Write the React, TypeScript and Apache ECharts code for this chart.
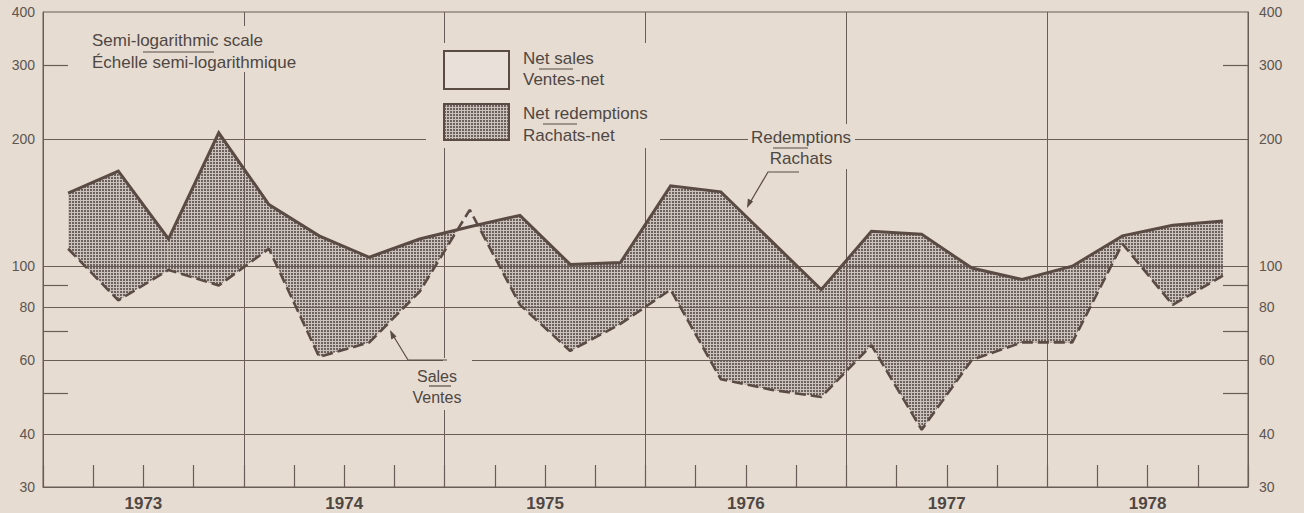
import React, { useEffect, useRef } from 'react';
import * as echarts from 'echarts';

// ---- data (quarterly, 1973 Q1 .. 1978 Q4), millions of dollars ----
const years = ['1973', '1974', '1975', '1976', '1977', '1978'];
const redemptions = [149, 168, 116, 207, 140, 118, 105, 116, 124, 132, 101, 102, 155, 150, 115, 88, 121, 119, 99, 93, 100, 118, 125, 128];
const sales = [110, 83, 98, 90, 110, 61, 66, 87, 136, 81, 63, 73, 88, 54, 51, 49, 65, 41, 60, 66, 66, 113, 81, 95];
const yLabelValues = [30, 40, 60, 80, 100, 200, 300, 400];
const yGridValues = [40, 60, 80, 100, 200];
const yShortTickValues = [50, 70, 90, 300];

const PAPER = '#e6dcd2';
const INK = '#5b4b45';
const GRID = '#6a5c56';
const TEXT = '#4f4742';
const FONT = '"Liberation Sans", Arial, Helvetica, sans-serif';

export default function App() {
  const ref = useRef<HTMLDivElement>(null);

  useEffect(() => {
    document.body.style.margin = '0';
    document.body.style.background = PAPER;
    const chart = echarts.init(ref.current!, null, { renderer: 'svg' });

    const canvas = document.createElement('canvas');
    canvas.width = 3;
    canvas.height = 3;
    const g = canvas.getContext('2d')!;
    g.fillStyle = '#cbc2bb';
    g.fillRect(0, 0, 3, 3);
    g.fillStyle = '#6c615d';
    g.fillRect(0, 0, 2, 2);
    const stipple: any = { image: canvas, repeat: 'repeat' };
    const lightFill = '#e9e1d9';

    const quarterPts = (arr: number[]) => arr.map((v, i) => [i + 0.5, v]);

    const renderBand = (params: any, api: any) => {
      const i = params.dataIndex;
      if (i >= redemptions.length - 1) return null;
      const r1 = api.coord([i + 0.5, redemptions[i]]);
      const r2 = api.coord([i + 1.5, redemptions[i + 1]]);
      const s1 = api.coord([i + 0.5, sales[i]]);
      const s2 = api.coord([i + 1.5, sales[i + 1]]);
      const d1 = s1[1] - r1[1];
      const d2 = s2[1] - r2[1];
      const dark = { fill: stipple, stroke: null };
      const light = { fill: lightFill, stroke: null };
      if (d1 * d2 >= 0) {
        return {
          type: 'polygon',
          shape: { points: [r1, r2, s2, s1] },
          style: d1 + d2 >= 0 ? dark : light,
        };
      }
      const t = d1 / (d1 - d2);
      const X = [r1[0] + t * (r2[0] - r1[0]), r1[1] + t * (r2[1] - r1[1])];
      return {
        type: 'group',
        children: [
          { type: 'polygon', shape: { points: [r1, X, s1] }, style: d1 > 0 ? dark : light },
          { type: 'polygon', shape: { points: [X, r2, s2] }, style: d2 > 0 ? dark : light },
        ],
      };
    };

    const text = (t: string, x: number, y: number, size: number, align = 'left') => ({
      type: 'text',
      x,
      y,
      z: 20,
      style: {
        text: t,
        fill: TEXT,
        fontSize: size,
        fontFamily: FONT,
        align,
        verticalAlign: 'middle',
        textAlign: align,
        textVerticalAlign: 'middle',
      },
    });
    const seg = (x1: number, y1: number, x2: number, y2: number, w = 1.2) => ({
      type: 'line',
      z: 20,
      shape: { x1, y1, x2, y2 },
      style: { stroke: INK, lineWidth: w },
    });
    const cover = (x: number, y: number, w: number, h: number) => ({
      type: 'rect',
      z: 15,
      shape: { x, y, width: w, height: h },
      style: { fill: PAPER },
    });

    const yLabel = { fontSize: 14, fontFamily: FONT, color: '#5d5550' };

    chart.setOption({
      animation: false,
      backgroundColor: PAPER,
      grid: {
        left: 43,
        right: 56,
        top: 12,
        bottom: 26,
        show: true,
        borderColor: GRID,
        borderWidth: 1,
        backgroundColor: 'transparent',
      },
      xAxis: [
        {
          type: 'category',
          data: years,
          boundaryGap: true,
          position: 'bottom',
          z: 2,
          axisLine: { show: true, lineStyle: { color: GRID, width: 1 } },
          axisTick: { show: false },
          axisLabel: { fontSize: 17, fontWeight: 'bold', fontFamily: FONT, color: TEXT, margin: 8 },
          splitLine: { show: true, interval: 0, lineStyle: { color: GRID, width: 1 } },
        },
        {
          type: 'value',
          min: 0,
          max: 24,
          interval: 1,
          position: 'bottom',
          z: 2,
          axisLine: { show: false },
          axisTick: { show: true, inside: true, length: 22, lineStyle: { color: GRID, width: 1.2 } },
          axisLabel: { show: false },
          splitLine: { show: false },
        },
      ],
      yAxis: [
        {
          type: 'log',
          logBase: 10,
          min: 30,
          max: 400,
          position: 'left',
          z: 2,
          axisLine: { show: true, lineStyle: { color: GRID, width: 1 } },
          axisTick: { show: false, customValues: yGridValues },
          axisLabel: { ...yLabel, margin: 8, customValues: yLabelValues },
          splitLine: { show: true, lineStyle: { color: GRID, width: 1 } },
          minorTick: { show: false },
        },
        {
          type: 'log',
          logBase: 10,
          min: 30,
          max: 400,
          position: 'left',
          z: 2,
          axisLine: { show: false },
          axisTick: { show: true, inside: true, length: 25, customValues: yShortTickValues, lineStyle: { color: GRID, width: 1.2 } },
          axisLabel: { show: false },
          splitLine: { show: false },
        },
        {
          type: 'log',
          logBase: 10,
          min: 30,
          max: 400,
          position: 'right',
          z: 2,
          axisLine: { show: true, lineStyle: { color: GRID, width: 1 } },
          axisTick: { show: true, inside: true, length: 25, customValues: yShortTickValues, lineStyle: { color: GRID, width: 1.2 } },
          axisLabel: { ...yLabel, margin: 11, customValues: yLabelValues },
          splitLine: { show: false },
        },
      ],
      series: [
        {
          type: 'custom',
          name: 'band',
          xAxisIndex: 1,
          yAxisIndex: 0,
          z: 1,
          silent: true,
          data: quarterPts(redemptions).slice(0, -1),
          encode: { x: 0, y: 1 },
          renderItem: renderBand,
        },
        {
          type: 'line',
          name: 'Redemptions',
          xAxisIndex: 1,
          yAxisIndex: 0,
          z: 4,
          data: quarterPts(redemptions),
          symbol: 'none',
          lineStyle: { color: INK, width: 3, join: 'miter' },
        },
        {
          type: 'line',
          name: 'Sales',
          xAxisIndex: 1,
          yAxisIndex: 0,
          z: 4,
          data: quarterPts(sales),
          symbol: 'none',
          lineStyle: { color: INK, width: 2.6, type: [11, 5] },
        },
      ],
      graphic: [
        // covers that interrupt the grid behind annotations
        cover(88, 26, 212, 46),
        cover(426, 43, 234, 105),
        cover(748, 124, 107, 45),
        cover(443, 358, 29, 52),
        // scale note
        text('Semi-logarithmic scale', 92, 40, 17),
        seg(143, 52, 214, 52),
        text('Échelle semi-logarithmique', 92, 62, 17),
        // legend
        {
          type: 'rect',
          z: 20,
          shape: { x: 444, y: 51, width: 65, height: 38 },
          style: { fill: lightFill, stroke: INK, lineWidth: 2 },
        },
        text('Net sales', 523, 58, 17),
        seg(539, 69, 573, 69),
        text('Ventes-net', 523, 79, 17),
        {
          type: 'rect',
          z: 20,
          shape: { x: 444, y: 104, width: 65, height: 36 },
          style: { fill: stipple, stroke: INK, lineWidth: 2 },
        },
        text('Net redemptions', 523, 113, 17),
        seg(543, 124, 577, 124),
        text('Rachats-net', 523, 135, 17),
        // Redemptions label with leader
        text('Redemptions', 801, 137, 17, 'center'),
        seg(773, 148, 808, 148),
        text('Rachats', 801, 158, 17, 'center'),
        {
          type: 'polyline',
          z: 20,
          shape: { points: [[799, 172], [768, 172], [748, 206]] },
          style: { stroke: INK, lineWidth: 1.2, fill: null },
        },
        {
          type: 'polygon',
          z: 20,
          shape: { points: [[747, 208], [753.1, 201.5], [747.9, 198.5]] },
          style: { fill: INK },
        },
        // Sales label with leader
        text('Sales', 437, 376, 16, 'center'),
        seg(429, 386, 451, 386),
        text('Ventes', 437, 397, 16, 'center'),
        {
          type: 'polyline',
          z: 20,
          shape: { points: [[447, 360], [408, 360], [391, 332]] },
          style: { stroke: INK, lineWidth: 1.2, fill: null },
        },
        {
          type: 'polygon',
          z: 20,
          shape: { points: [[390, 330], [396.5, 336.5], [391.3, 339.5]] },
          style: { fill: INK },
        },
      ],
    });

    return () => chart.dispose();
  }, []);

  return <div ref={ref} style={{ width: 1304, height: 513 }} />;
}
